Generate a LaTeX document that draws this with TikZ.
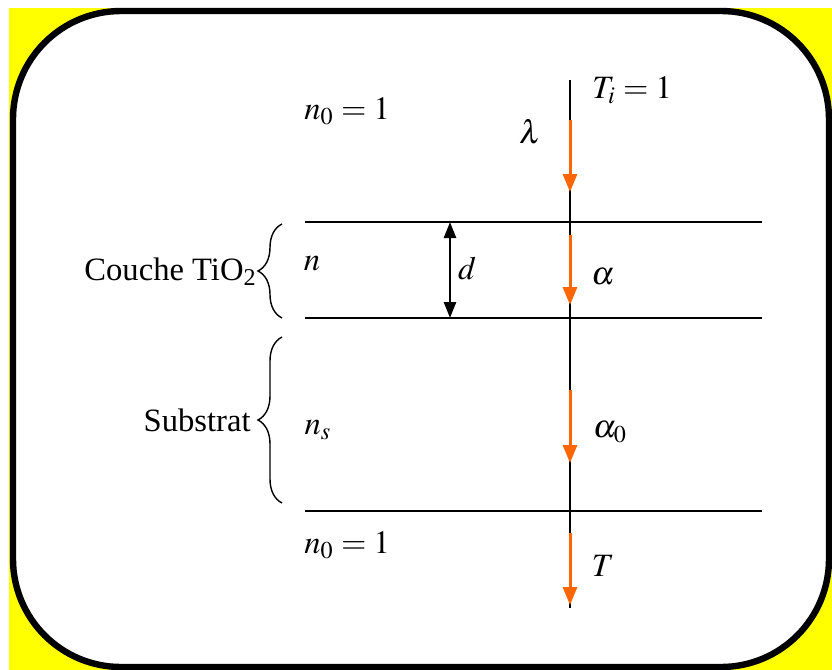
\documentclass[tikz,border=0pt]{standalone}
\usepackage{mathptmx}
\usepackage{fontspec}
\setmainfont{Liberation Serif}
\usetikzlibrary{arrows.meta,decorations.pathreplacing}
\definecolor{fondjaune}{RGB}{255,255,0}
\definecolor{rayorange}{RGB}{255,102,0}
\tikzset{
  cadre/.style={line width=3.2pt, rounded corners=54pt, fill=white},
  couche/.style={line width=1.2pt},
  rayon/.style={line width=1.5pt, rayorange, -{Triangle[width=7pt,length=9pt]}},
  epais/.style={line width=1.3pt, {Triangle[width=6pt,length=8pt]}-{Triangle[width=6pt,length=8pt]}},
  accolade/.style={line width=0.7pt, decorate, decoration={brace, amplitude=12pt}},
  etiq/.style={font=\fontsize{16.3}{19}\selectfont, inner sep=0pt}
}
\begin{document}
\begin{tikzpicture}[x=0.5pt, y=-0.5pt]
        \useasboundingbox (0,0) rectangle (832,670);
        % fond
        \fill[fondjaune] (9,8) rectangle (832,670);
        \draw[cadre] (13,11) rectangle (829,667);
        
        % couches
        \foreach \y/\nom in {222/haut, 318/milieu, 511/bas} {
            \draw[couche] (305,\y) coordinate (\nom W) -- (762,\y) coordinate (\nom E);
        }
        
        % rayon incident
        \coordinate (rayon debut) at (570,80);
        \coordinate (rayon fin) at (570,608);
        \draw[line width=1pt] (rayon debut) -- (rayon fin);
        \foreach \a/\b/\i in {120/192/1, 235/305/2, 390/463/3, 533/605/4} {
            \coordinate (s\i) at (570,\a);
            \coordinate (e\i) at (570,\b);
            \draw[rayon] (s\i) -- (e\i);
        }
        
        % epaisseur d
        \coordinate (d haut) at (450,222);
        \coordinate (d bas) at (450,318);
        \draw[epais] (d haut) -- (d bas);
        
        % accolades
        \draw[accolade] (282,318) -- (282,224) coordinate[midway] (acc couche);
        \draw[accolade] (282,503) -- (282,337) coordinate[midway] (acc substrat);
        
        % etiquettes
        \node[etiq, anchor=west] (n0 haut) at (304,111) {$n_0=1$};
        \node[etiq] (lambda) at (530,132) {$\lambda$};
        \node[etiq, anchor=west] (Ti) at (592,90) {$T_i=1$};
        \node[etiq] (n) at (312,264) {$n$};
        \node[etiq] (d) at (467,268) {$d$};
        \node[etiq] (alpha) at (603,277) {$\alpha$};
        \node[etiq] (ns) at (318,430) {$n_s$};
        \node[etiq] (alpha0) at (610,432) {$\alpha_0$};
        \node[etiq, anchor=west] (n0 bas) at (304,545) {$n_0=1$};
        \node[etiq] (T) at (603,566) {$T$};
        \node[etiq, anchor=east] (couche) at (257,272) {Couche TiO\textsubscript{2}};
        \node[etiq, anchor=east] (substrat) at (251,420) {Substrat};
        
    \end{tikzpicture}
\end{document}
